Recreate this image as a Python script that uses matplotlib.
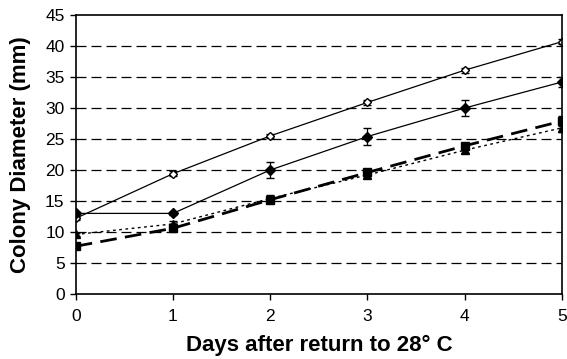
import numpy as np
import matplotlib
matplotlib.use("Agg")
import matplotlib.pyplot as plt

plt.rcParams['font.family'] = ['Liberation Sans', 'DejaVu Sans']

days = [0, 1, 2, 3, 4, 5]

# open diamonds
open_d = [12.2, 19.4, 25.5, 30.9, 36.1, 40.7]
open_err = [0.3, 0.4, 0.3, 0.4, 0.4, 0.4]
# filled diamonds
fill_d = [13.0, 13.0, 20.0, 25.4, 30.0, 34.2]
fill_err = [0.3, 0.3, 1.35, 1.4, 1.3, 0.8]
# filled squares (long dash)
square = [7.7, 10.6, 15.2, 19.6, 23.9, 27.9]
square_err = [0.3, 0.4, 0.6, 0.5, 0.5, 0.8]
# filled triangles (dotted)
triangle = [9.6, 11.3, 15.4, 19.2, 23.2, 26.8]
triangle_err = [0.3, 0.4, 0.5, 0.5, 0.5, 0.6]

fig = plt.figure(figsize=(5.67, 3.59), dpi=100)
ax = fig.add_axes([75.7 / 567, 1 - 294 / 359, (562 - 75.7) / 567, (294 - 15) / 359])

for y in range(5, 45, 5):
    ax.axhline(y, color='black', lw=0.9, ls=(0, (8, 4)), zorder=0)

ax.errorbar(days, open_d, yerr=open_err, color='black', lw=0.9, marker='D',
            mfc='white', mec='black', ms=4.5, capsize=3, elinewidth=0.9)
ax.errorbar(days, fill_d, yerr=fill_err, color='black', lw=0.9, marker='D',
            mfc='black', mec='black', ms=5, capsize=3, elinewidth=0.9)
ax.errorbar(days, square, yerr=square_err, color='black', lw=2.0, ls=(0, (6, 3)),
            marker='s', ms=6, capsize=3, elinewidth=0.9)
ax.errorbar(days, triangle, yerr=triangle_err, color='black', lw=1.0, ls=(0, (2, 2.5)),
            marker='^', ms=6, capsize=3, elinewidth=0.9)

ax.set_xlim(0, 5)
ax.set_ylim(0, 45)
ax.set_xticks(days)
ax.set_yticks(range(0, 50, 5))
ax.tick_params(labelsize=12.5, direction='out', length=4.5, width=1)
ax.tick_params(axis='x', pad=6)
for s in ax.spines.values():
    s.set_linewidth(1.2)

ax.set_xlabel('Days after return to 28° C', fontsize=16, fontweight='bold', labelpad=8)
ax.set_ylabel('Colony Diameter (mm)', fontsize=16, fontweight='bold', labelpad=10)

fig.savefig('out.png', dpi=100)
